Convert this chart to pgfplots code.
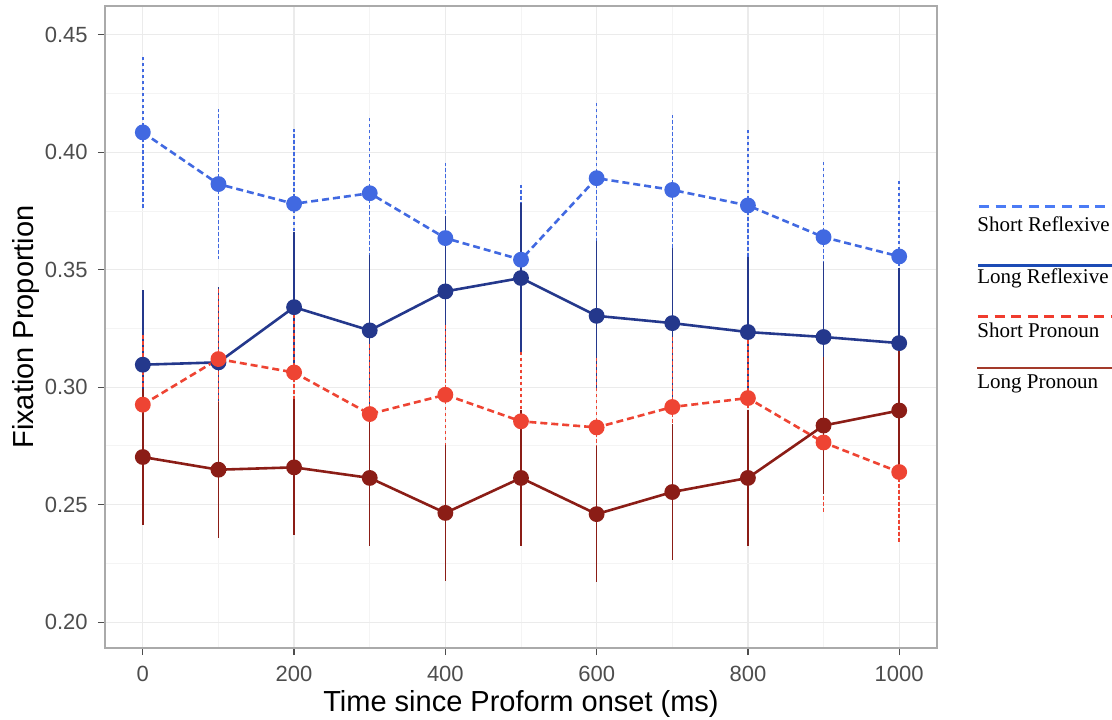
\documentclass[border=0pt]{standalone}
\usepackage{fontspec}
\setmainfont{Liberation Sans}
\newfontfamily\legfont{Liberation Serif}
\usepackage{pgfplots}
\pgfplotsset{compat=1.18}
\usepackage{pgfplotstable}

\definecolor{srcol}{HTML}{4169E1}
\definecolor{lrcol}{HTML}{24388C}
\definecolor{spcol}{HTML}{EE4433}
\definecolor{lpcol}{HTML}{8B1D16}
\definecolor{gridmaj}{HTML}{EBEBEB}
\definecolor{gridmin}{HTML}{F4F4F4}
\definecolor{panelborder}{HTML}{AAAAAA}
\definecolor{ticktext}{HTML}{4D4D4D}
\definecolor{legsr}{HTML}{4B7BF5}
\definecolor{leglr}{HTML}{1C4BB5}
\definecolor{legsp}{HTML}{F03C2E}
\definecolor{leglp}{HTML}{A33A2A}

% time (ms), mean fixation proportion, error
\pgfplotstableread{
x y e
0    0.4085 0.032
100  0.3865 0.032
200  0.3781 0.032
300  0.3826 0.032
400  0.3635 0.032
500  0.3543 0.032
600  0.3890 0.032
700  0.3840 0.032
800  0.3774 0.032
900  0.3639 0.032
1000 0.3557 0.032
}\shortrefl
\pgfplotstableread{
x y e
0    0.3096 0.032
100  0.3106 0.032
200  0.3341 0.032
300  0.3242 0.032
400  0.3408 0.032
500  0.3465 0.032
600  0.3304 0.032
700  0.3273 0.032
800  0.3235 0.032
900  0.3214 0.032
1000 0.3188 0.032
}\longrefl
\pgfplotstableread{
x y e
0    0.2926 0.030
100  0.3120 0.030
200  0.3063 0.030
300  0.2886 0.030
400  0.2968 0.030
500  0.2855 0.030
600  0.2829 0.030
700  0.2916 0.030
800  0.2954 0.030
900  0.2765 0.030
1000 0.2639 0.030
}\shortpron
\pgfplotstableread{
x y e
0    0.2703 0.029
100  0.2649 0.029
200  0.2659 0.029
300  0.2614 0.029
400  0.2465 0.029
500  0.2614 0.029
600  0.2460 0.029
700  0.2554 0.029
800  0.2614 0.029
900  0.2837 0.029
1000 0.2901 0.029
}\longpron

\begin{document}
\begin{tikzpicture}
\useasboundingbox (0,0) rectangle (556pt,359.5pt);
\begin{axis}[
  at={(52.5pt,35.5pt)}, anchor=south west,
  scale only axis, width=416pt, height=321pt,
  xmin=-50, xmax=1050, ymin=0.189, ymax=0.4623,
  xtick={0,200,...,1000},
  minor xtick={100,300,...,900},
  ytick={0.20,0.25,0.30,0.35,0.40,0.45},
  minor ytick={0.225,0.275,0.325,0.375,0.425},
  grid=both,
  major grid style={gridmaj, line width=0.6pt},
  minor grid style={gridmin, line width=0.5pt},
  axis line style={panelborder, line width=0.8pt},
  tick align=outside,
  major tick length=3.5pt, minor tick length=0pt,
  tick style={ticktext, line width=0.6pt},
  xtick pos=bottom, ytick pos=left,
  /pgf/number format/assume math mode=true,
  yticklabel style={/pgf/number format/fixed, /pgf/number format/precision=2,
    /pgf/number format/fixed zerofill, font=\fontsize{11}{13}\selectfont,
    text=ticktext, anchor=east, inner sep=0pt, xshift=-5pt},
  xticklabel style={/pgf/number format/1000 sep={}, font=\fontsize{11}{13}\selectfont,
    text=ticktext, anchor=base, inner sep=0pt, yshift=-13.3pt},
  scaled y ticks=false,
  xlabel={Time since Proform onset (ms)},
  ylabel={Fixation Proportion},
  xlabel style={font=\fontsize{14.5}{17}\selectfont, at={(axis description cs:0.5,-0.0992)}, anchor=base},
  ylabel style={font=\fontsize{14.5}{17}\selectfont, at={(axis description cs:-0.0865,0.5)}, anchor=base, rotate=0},
  every axis plot/.append style={line width=1.3pt},
  mark size=3.3pt,
]
\addplot[srcol, dash pattern=on 3.5pt off 2pt, mark=*, mark options={solid, draw=none, fill=srcol},
  error bars/.cd, y dir=both, y explicit,
  error mark=none, error bar style={line width=0.7pt, dash pattern=on 1.8pt off 1.2pt}]
  table[x=x, y=y, y error=e] {\shortrefl};
\addplot[lrcol, mark=*, mark options={solid, draw=none, fill=lrcol},
  error bars/.cd, y dir=both, y explicit,
  error mark=none, error bar style={line width=0.7pt}]
  table[x=x, y=y, y error=e] {\longrefl};
\addplot[spcol, dash pattern=on 3.5pt off 2pt, mark=*, mark options={solid, draw=none, fill=spcol},
  error bars/.cd, y dir=both, y explicit,
  error mark=none, error bar style={line width=0.7pt, dash pattern=on 1.8pt off 1.2pt}]
  table[x=x, y=y, y error=e] {\shortpron};
\addplot[lpcol, mark=*, mark options={solid, draw=none, fill=lpcol},
  error bars/.cd, y dir=both, y explicit,
  error mark=none, error bar style={line width=0.7pt}]
  table[x=x, y=y, y error=e] {\longpron};
\end{axis}

% key: a sample line above each label
\draw[legsr, line width=1.5pt, dash pattern=on 5pt off 3.3pt] (489.5pt,256.5pt) -- (556pt,256.5pt);
\node[anchor=base west, inner sep=0pt, font=\legfont\fontsize{10.5}{12}\selectfont] at (488.5pt,243.6pt) {Short Reflexive};
\draw[leglr, line width=1.5pt] (489pt,227pt) -- (556pt,227pt);
\node[anchor=base west, inner sep=0pt, font=\legfont\fontsize{10.5}{12}\selectfont] at (488.5pt,217.8pt) {Long Reflexive};
\draw[legsp, line width=1.5pt, dash pattern=on 5pt off 3.3pt] (489pt,201.5pt) -- (556pt,201.5pt);
\node[anchor=base west, inner sep=0pt, font=\legfont\fontsize{10.5}{12}\selectfont] at (488.5pt,190.8pt) {Short Pronoun};
\draw[leglp, line width=1.2pt] (488.5pt,175.5pt) -- (556pt,175.5pt);
\node[anchor=base west, inner sep=0pt, font=\legfont\fontsize{10.5}{12}\selectfont] at (488.5pt,165.3pt) {Long Pronoun};
\end{tikzpicture}
\end{document}
